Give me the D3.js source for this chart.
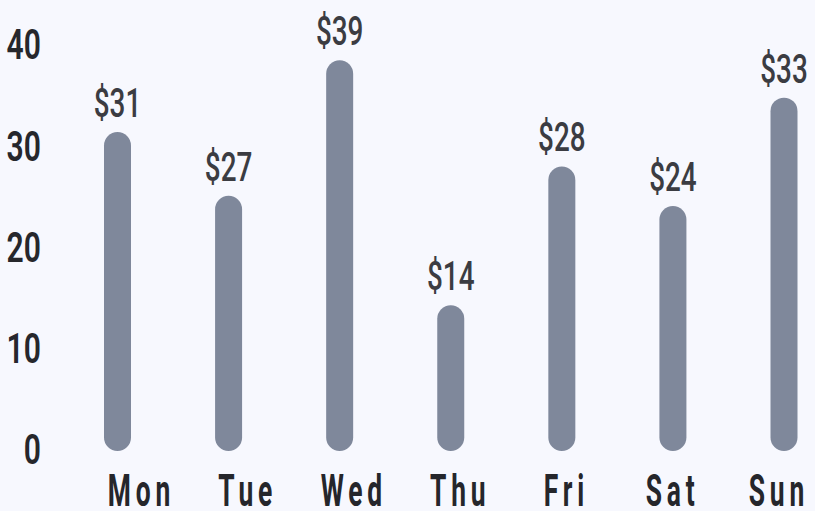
<!DOCTYPE html>
<html>
<head>
<meta charset="utf-8">
<script src="https://cdn.jsdelivr.net/npm/d3@7"></script>
<style>
  html, body { margin: 0; padding: 0; background: #f7f8fe; }
  svg { display: block; }
  text { font-family: "Roboto", "DejaVu Sans Condensed", sans-serif; }
</style>
</head>
<body>
<svg id="chart" width="815" height="511"></svg>
<script>
// ── data ─────────────────────────────────────────────
const days = ['Mon', 'Tue', 'Wed', 'Thu', 'Fri', 'Sat', 'Sun'];
const spend = [31.5, 25.2, 38.6, 14.4, 28.1, 24.2, 34.9];
const spendLabels = ['$31', '$27', '$39', '$14', '$28', '$24', '$33'];
const yTicks = [0, 10, 20, 30, 40];

// squeeze text horizontally around its anchor x (condensed look)
const squeeze = (cx, k) => `translate(${cx},0) scale(${k},1) translate(${-cx},0)`;

// ── chart ────────────────────────────────────────────
function drawChart() {
  const svg = d3.select('#chart');
  svg.selectAll('*').remove();

  const barW = 27;
  const x = d3.scalePoint().domain(days).range([117.5, 784]);
  const xLabel = d3.scalePoint().domain(days).range([139, 776.5]);
  const y = d3.scaleLinear().domain([0, 40]).range([451, 46]);

  // y tick labels
  svg.append('g')
    .selectAll('text')
    .data(yTicks).enter().append('text')
      .attr('x', 41)
      .attr('y', d => y(d) - 2)
      .attr('dy', '0.36em')
      .attr('text-anchor', 'end')
      .attr('font-size', 43)
      .attr('font-weight', 600)
      .attr('fill', '#26272c')
      .attr('transform', squeeze(41, 0.7))
      .text(d => d);

  // bars
  svg.append('g')
    .selectAll('rect')
    .data(spend).enter().append('rect')
      .attr('x', (d, i) => x(days[i]) - barW / 2)
      .attr('width', barW)
      .attr('y', d => y(d))
      .attr('height', d => y(0) - y(d))
      .attr('rx', barW / 2)
      .attr('fill', '#7f889b');

  // value labels
  svg.append('g')
    .selectAll('text')
    .data(spend).enter().append('text')
      .attr('x', (d, i) => x(days[i]))
      .attr('y', d => y(d) - 15)
      .attr('text-anchor', 'middle')
      .attr('font-size', 41)
      .attr('font-weight', 500)
      .attr('fill', '#3b3c42')
      .attr('transform', (d, i) => squeeze(x(days[i]), 0.68))
      .text((d, i) => spendLabels[i]);

  // day labels
  svg.append('g')
    .selectAll('text')
    .data(days).enter().append('text')
      .attr('x', d => xLabel(d) + 4)
      .attr('y', 506)
      .attr('text-anchor', 'middle')
      .attr('font-size', 44)
      .attr('font-weight', 700)
      .attr('letter-spacing', 8)
      .attr('fill', '#25262b')
      .attr('transform', d => squeeze(xLabel(d), 0.6))
      .text(d => d);
}

drawChart();
</script>
</body>
</html>
